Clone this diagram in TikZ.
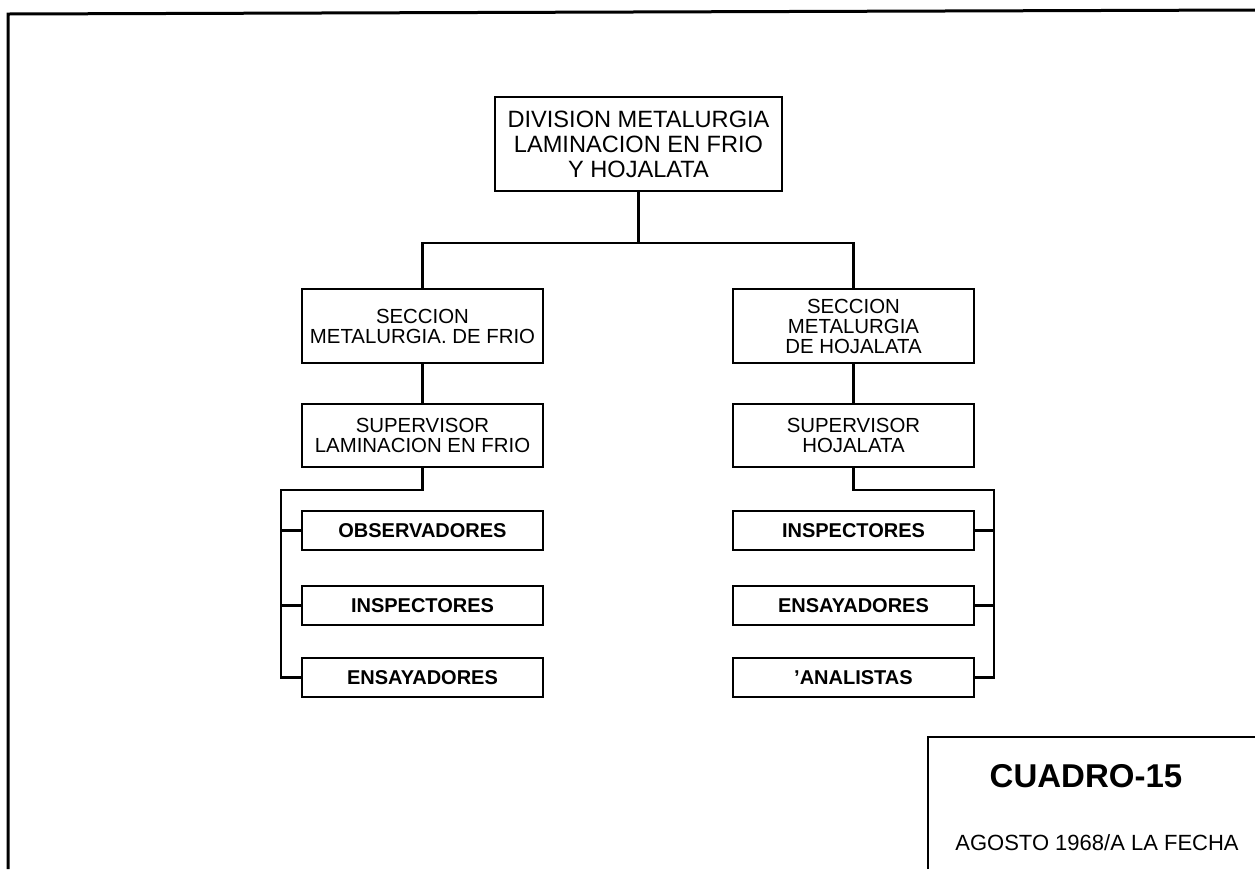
\documentclass[tikz,border=0pt]{standalone}
\usepackage{fontspec}
\setmainfont{Liberation Sans}
\usepackage{tikz}
\usetikzlibrary{positioning,calc}
\tikzstyle{frame} = [draw, line width=1.5pt]
\tikzstyle{block} = [rectangle, draw, line width=1pt, align=center, inner sep=2pt, font=\fontsize{10.2pt}{10pt}\selectfont]
\tikzstyle{head} = [block, minimum width=143.5pt, minimum height=47pt, font=\fontsize{11.8pt}{12.5pt}\selectfont]
\tikzstyle{section} = [block, minimum width=120.5pt, minimum height=37pt]
\tikzstyle{chief} = [block, minimum width=120.5pt, minimum height=31.5pt]
\tikzstyle{staff} = [block, minimum width=120.5pt, minimum height=19.5pt, font=\bfseries\fontsize{10pt}{10pt}\selectfont]
\tikzstyle{line} = [draw, line width=1.2pt]

\begin{document}
\begin{tikzpicture}[node distance = 20pt]
        \useasboundingbox (0,0) rectangle (627.5pt,-434.5pt);
        % Frame
        \draw [frame] (4pt,-434.5pt) -- (4pt,-7pt) -- (627.5pt,-5pt);
        \draw [line width=1pt] (464pt,-434.5pt) -- (464pt,-368.5pt) -- (627.5pt,-368.5pt);

        % Nodes
        \node [head] (division) at (319.25pt,-72pt) {DIVISION METALURGIA\\LAMINACION EN FRIO\\Y HOJALATA};
        \node [section, below=48pt of division, xshift=-108pt] (secfrio) {SECCION\\METALURGIA. DE FRIO};
        \node [section, below=48pt of division, xshift=107.5pt] (sechoja) {SECCION\\METALURGIA\\DE HOJALATA};
        \node [chief, below=19.5pt of secfrio] (supfrio) {SUPERVISOR\\LAMINACION EN FRIO};
        \node [chief, below=19.5pt of sechoja] (suphoja) {SUPERVISOR\\HOJALATA};
        \node [staff, below=21pt of supfrio] (obsfrio) {OBSERVADORES};
        \node [staff, below=17pt of obsfrio] (insfrio) {INSPECTORES};
        \node [staff, below=15.5pt of insfrio] (ensfrio) {ENSAYADORES};
        \node [staff, below=21pt of suphoja] (inshoja) {INSPECTORES};
        \node [staff, below=17pt of inshoja] (enshoja) {ENSAYADORES};
        \node [staff, below=15.5pt of enshoja] (anahoja) {'ANALISTAS};
        \node [font=\bfseries\fontsize{16.5pt}{16.5pt}\selectfont] (cuadro) at (543pt,-388pt) {CUADRO-15};
        \node [font=\fontsize{11pt}{11pt}\selectfont] (fecha) at (548.5pt,-421.5pt) {AGOSTO 1968/A LA FECHA};

        % Paths
        \path [line] (division.south) -- ++(0,-25.5pt) -| (secfrio.north);
        \path [line] (division.south) -- ++(0,-25.5pt) -| (sechoja.north);
        \path [line] (secfrio) -- (supfrio);
        \path [line] (sechoja) -- (suphoja);

        % Staff brackets
        \path [line] (supfrio.south) -- ++(0,-11pt) -| ([xshift=-10pt]ensfrio.west) -- (ensfrio.west);
        \path [line] ([xshift=-10pt]obsfrio.west) -- (obsfrio.west);
        \path [line] ([xshift=-10pt]insfrio.west) -- (insfrio.west);
        \path [line] (suphoja.south) -- ++(0,-11pt) -| ([xshift=9.5pt]anahoja.east) -- (anahoja.east);
        \path [line] ([xshift=9.5pt]inshoja.east) -- (inshoja.east);
        \path [line] ([xshift=9.5pt]enshoja.east) -- (enshoja.east);
    \end{tikzpicture}
\end{document}
